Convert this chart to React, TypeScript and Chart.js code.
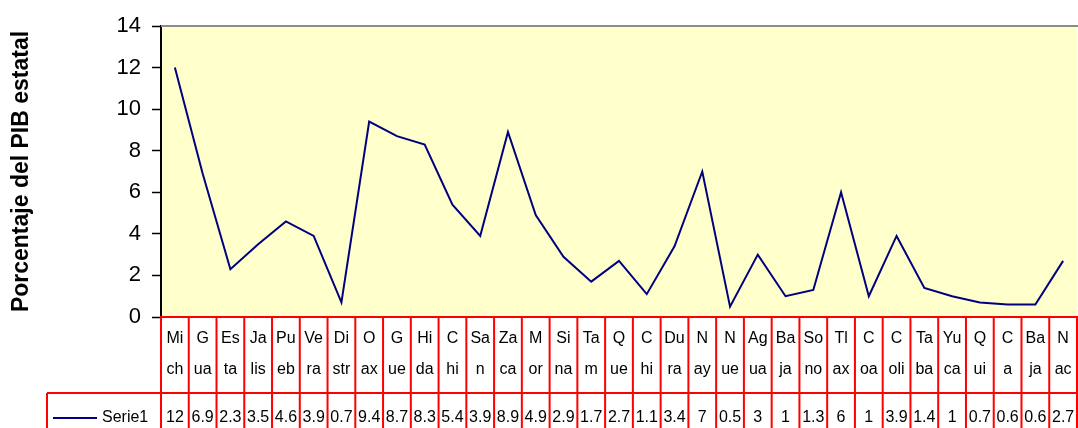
import { useEffect, useRef } from "react";
import { Chart, registerables } from "chart.js";

Chart.register(...registerables);

// Category labels, split in two lines as shown in the data table
const categories: string[][] = [
  ["Mi", "ch"], ["G", "ua"], ["Es", "ta"], ["Ja", "lis"], ["Pu", "eb"],
  ["Ve", "ra"], ["Di", "str"], ["O", "ax"], ["G", "ue"], ["Hi", "da"],
  ["C", "hi"], ["Sa", "n"], ["Za", "ca"], ["M", "or"], ["Si", "na"],
  ["Ta", "m"], ["Q", "ue"], ["C", "hi"], ["Du", "ra"], ["N", "ay"],
  ["N", "ue"], ["Ag", "ua"], ["Ba", "ja"], ["So", "no"], ["Tl", "ax"],
  ["C", "oa"], ["C", "oli"], ["Ta", "ba"], ["Yu", "ca"], ["Q", "ui"],
  ["C", "a"], ["Ba", "ja"], ["N", "ac"],
];

const serie1: number[] = [
  12, 6.9, 2.3, 3.5, 4.6, 3.9, 0.7, 9.4, 8.7, 8.3, 5.4, 3.9, 8.9, 4.9, 2.9,
  1.7, 2.7, 1.1, 3.4, 7, 0.5, 3, 1, 1.3, 6, 1, 3.9, 1.4, 1, 0.7, 0.6, 0.6, 2.7,
];

const seriesName = "Serie1";
const yTitle = "Porcentaje del PIB estatal";
const yMin = 0;
const yMax = 14;
const yStep = 2;

const FONT = "'Liberation Sans', Arial, sans-serif";
const LINE_COLOR = "#000080";
const TABLE_COLOR = "#FF0000";

const tablePlugin = {
  id: "dataTable",
  beforeDraw(chart: any) {
    const { ctx, chartArea: a } = chart;
    ctx.save();
    ctx.fillStyle = "#FFFFCC";
    ctx.fillRect(a.left, a.top, a.right - a.left, a.bottom - a.top);
    ctx.restore();
  },
  afterDraw(chart: any) {
    const { ctx, chartArea: a } = chart;
    const xs = chart.scales.x;
    const n = categories.length;
    const bounds: number[] = [];
    for (let i = 0; i <= n; i++) {
      if (i === 0) bounds.push(a.left);
      else if (i === n) bounds.push(a.right);
      else bounds.push((xs.getPixelForValue(i - 1) + xs.getPixelForValue(i)) / 2);
    }
    ctx.save();
    // gray top border of plot area
    ctx.strokeStyle = "#8C8C8C";
    ctx.lineWidth = 2;
    ctx.beginPath();
    ctx.moveTo(a.left, a.top);
    ctx.lineTo(a.right + 2, a.top);
    ctx.stroke();

    const rowTop = a.bottom;
    const row2Top = a.bottom + 76;
    const tableBottom = chart.height + 20;
    const legendLeft = 47;

    ctx.strokeStyle = TABLE_COLOR;
    ctx.lineWidth = 2;
    ctx.beginPath();
    ctx.moveTo(a.left - 1, rowTop);
    ctx.lineTo(a.right + 1, rowTop);
    ctx.moveTo(legendLeft, row2Top);
    ctx.lineTo(a.right + 1, row2Top);
    ctx.moveTo(legendLeft, row2Top);
    ctx.lineTo(legendLeft, tableBottom);
    for (const b of bounds) {
      ctx.moveTo(b, rowTop);
      ctx.lineTo(b, tableBottom);
    }
    ctx.stroke();

    ctx.fillStyle = "#000";
    ctx.font = `16px ${FONT}`;
    ctx.textAlign = "center";
    ctx.textBaseline = "middle";
    for (let i = 0; i < n; i++) {
      const cx = (bounds[i] + bounds[i + 1]) / 2;
      ctx.fillText(categories[i][0], cx, rowTop + 22);
      ctx.fillText(categories[i][1], cx, rowTop + 53);
      ctx.fillText(String(serie1[i]), cx, row2Top + 25);
    }

    // legend key
    ctx.strokeStyle = LINE_COLOR;
    ctx.lineWidth = 2;
    ctx.beginPath();
    ctx.moveTo(53, row2Top + 25);
    ctx.lineTo(97, row2Top + 25);
    ctx.stroke();
    ctx.textAlign = "left";
    ctx.fillText(seriesName, 102, row2Top + 25);
    ctx.restore();
  },
};

export default function App() {
  const ref = useRef<HTMLCanvasElement | null>(null);

  useEffect(() => {
    if (!ref.current) return;
    const chart = new Chart(ref.current, {
      type: "line",
      data: {
        labels: categories.map((c) => c.join("")),
        datasets: [
          {
            label: seriesName,
            data: serie1,
            borderColor: LINE_COLOR,
            borderWidth: 2,
            pointRadius: 0,
            tension: 0,
            fill: false,
          },
        ],
      },
      options: {
        animation: false,
        responsive: true,
        maintainAspectRatio: false,
        layout: { padding: { top: 26, right: 1, bottom: 111, left: 0 } },
        plugins: {
          legend: { display: false },
          tooltip: { enabled: false },
        },
        scales: {
          x: {
            type: "category",
            display: false,
            offset: true,
          },
          y: {
            min: yMin,
            max: yMax,
            afterFit: (s: any) => {
              s.width = 161;
            },
            ticks: {
              stepSize: yStep,
              color: "#000",
              font: { family: FONT, size: 22 },
              padding: 11,
            },
            grid: {
              drawOnChartArea: false,
              drawTicks: true,
              tickLength: 9,
              tickColor: "#000",
              tickWidth: 1.5,
            },
            border: { display: true, color: "#000", width: 2 },
            title: {
              display: true,
              text: yTitle,
              color: "#000",
              font: { family: FONT, size: 23, weight: "bold" },
              padding: { top: 8, bottom: 0 },
            },
          },
        },
      },
      plugins: [tablePlugin],
    });
    return () => chart.destroy();
  }, []);

  return (
    <div style={{ position: "fixed", left: 0, top: 0, width: 1078, height: 428 }}>
      <canvas ref={ref} />
    </div>
  );
}
